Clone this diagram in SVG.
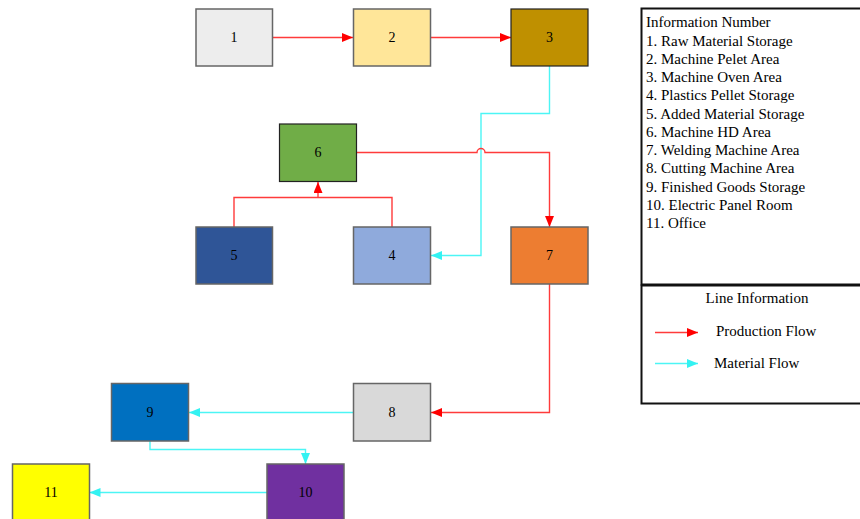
<svg xmlns="http://www.w3.org/2000/svg" width="860" height="519" viewBox="0 0 860 519">
<defs>
<style>
.n{stroke:#666;stroke-width:1.5}
.nk{stroke:#222;stroke-width:1.2}
.t{font-family:"Liberation Serif","Times New Roman",serif;font-size:14px;fill:#000;text-anchor:middle}
.l{font-family:"Liberation Serif","Times New Roman",serif;font-size:15px;fill:#000}
.lc{font-family:"Liberation Serif","Times New Roman",serif;font-size:15px;fill:#000;text-anchor:middle}
.p{fill:none;stroke:#ff3b3b;stroke-width:1.4}
.m{fill:none;stroke:#4cf5f5;stroke-width:1.4}
</style>
<marker id="ar" markerWidth="11" markerHeight="9" refX="11" refY="4.5" orient="auto" markerUnits="userSpaceOnUse"><path d="M0,0 L11,4.5 L0,9 Z" fill="#ff0000"/></marker>
<marker id="am" markerWidth="11" markerHeight="9" refX="11" refY="4.5" orient="auto" markerUnits="userSpaceOnUse"><path d="M0,0 L11,4.5 L0,9 Z" fill="#33f2f2"/></marker>
</defs>
<rect width="860" height="519" fill="#fff"/>
<g id="connectors">
<path class="p" d="M272.5,37.5 H353" marker-end="url(#ar)"/>
<path class="p" d="M430.5,37.5 H511" marker-end="url(#ar)"/>
<path class="m" d="M549.5,66 V113.5 H481 V255.5 H431" marker-end="url(#am)"/>
<path class="p" d="M356.5,152.5 H477 A4,4 0 0 1 485,152.5 H549.5 V227" marker-end="url(#ar)"/>
<path class="p" d="M234,227 V197.5 H392 V227"/>
<path class="p" d="M318,197.5 V182" marker-end="url(#ar)"/>
<path class="p" d="M549.5,284 V412.5 H431" marker-end="url(#ar)"/>
<path class="m" d="M353,412.5 H189" marker-end="url(#am)"/>
<path class="m" d="M150,441 V449.5 H305.5 V464" marker-end="url(#am)"/>
<path class="m" d="M267,492.5 H89.5" marker-end="url(#am)"/>
</g>
<g id="n1"><rect class="n" x="196" y="9" width="76.5" height="57" fill="#EDEDED"/><text class="t" x="234" y="42">1</text></g>
<g id="n2"><rect class="n" x="353.5" y="9" width="77" height="57" fill="#FFE699"/><text class="t" x="392" y="42">2</text></g>
<g id="n3"><rect class="nk" x="511" y="9" width="77" height="57" fill="#BF9000"/><text class="t" x="549.5" y="42">3</text></g>
<g id="n6"><rect class="nk" x="279.5" y="124" width="77" height="57.5" fill="#70AD47"/><text class="t" x="318" y="157">6</text></g>
<g id="n5"><rect class="n" x="196" y="227" width="76.5" height="57" fill="#2F5597"/><text class="t" x="234" y="260">5</text></g>
<g id="n4"><rect class="n" x="353.5" y="227" width="77" height="57" fill="#8FAADC"/><text class="t" x="392" y="260">4</text></g>
<g id="n7"><rect class="n" x="511" y="227" width="77" height="57" fill="#ED7D31"/><text class="t" x="549.5" y="260">7</text></g>
<g id="n8"><rect class="n" x="353.5" y="383.5" width="77" height="57.5" fill="#D9D9D9"/><text class="t" x="392" y="417">8</text></g>
<g id="n9"><rect class="n" x="111.5" y="383.5" width="77" height="57.5" fill="#0070C0"/><text class="t" x="150" y="417">9</text></g>
<g id="n10"><rect class="n" x="267" y="464" width="77" height="60" fill="#7030A0"/><text class="t" x="305.5" y="497">10</text></g>
<g id="n11"><rect class="n" x="12.5" y="464" width="77" height="60" fill="#FFFF00"/><text class="t" x="51" y="497">11</text></g>
<g id="legend-info">
<rect x="641.5" y="8.5" width="222" height="276" fill="#fff" stroke="#111" stroke-width="2"/>
<text class="l" x="646" y="27">Information Number</text>
<text class="l" x="646" y="45.5">1. Raw Material Storage</text>
<text class="l" x="646" y="63.7">2. Machine Pelet Area</text>
<text class="l" x="646" y="82">3. Machine Oven Area</text>
<text class="l" x="646" y="100.2">4. Plastics Pellet Storage</text>
<text class="l" x="646" y="118.5">5. Added Material Storage</text>
<text class="l" x="646" y="136.7">6. Machine HD Area</text>
<text class="l" x="646" y="155">7. Welding Machine Area</text>
<text class="l" x="646" y="173.2">8. Cutting Machine Area</text>
<text class="l" x="646" y="191.5">9. Finished Goods Storage</text>
<text class="l" x="646" y="209.7">10. Electric Panel Room</text>
<text class="l" x="646" y="228">11. Office</text>
</g>
<g id="legend-line">
<rect x="641.5" y="285.5" width="222" height="118" fill="#fff" stroke="#111" stroke-width="2"/>
<text class="lc" x="757" y="303">Line Information</text>
<path class="p" d="M655,332.5 H698" marker-end="url(#ar)"/>
<text class="l" x="716" y="336">Production Flow</text>
<path class="m" d="M655,363.5 H698" marker-end="url(#am)"/>
<text class="l" x="714" y="368">Material Flow</text>
</g>
</svg>
